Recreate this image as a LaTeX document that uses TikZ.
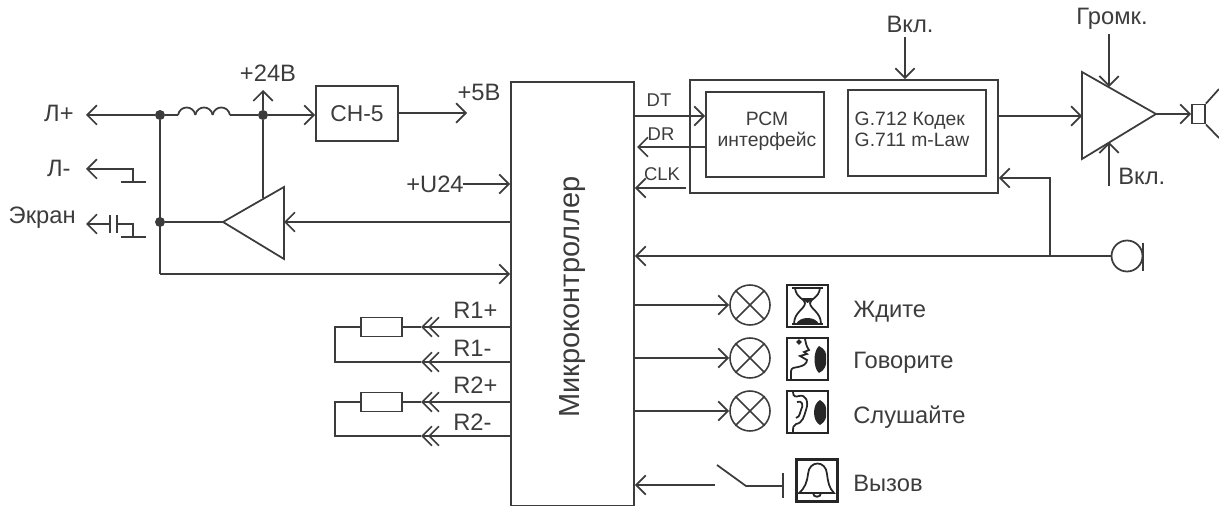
\documentclass[tikz,border=0pt]{standalone}
\usepackage{fontspec}
\setmainfont{Liberation Sans}
\usetikzlibrary{arrows.meta,positioning,calc}
\definecolor{ink}{HTML}{3C3C3C}
\tikzset{
  wire/.style={draw=ink,line width=1pt},
  barb/.style={-{Straight Barb[length=5.5pt,width=11pt,line width=1pt]}},
  blockbox/.style={draw=ink,line width=1pt,inner sep=0pt,align=center},
  iconbox/.style={draw=black!85,line width=1.2pt,minimum width=0.82cm,minimum height=0.84cm,inner sep=0pt},
  lamp/.style={draw=ink,line width=0.9pt,circle,minimum size=0.8cm,inner sep=0pt},
  dot/.style={circle,fill=ink,minimum size=0.2cm,inner sep=0pt},
  lbl/.style={text=ink,font=\fontsize{13.5}{15}\selectfont,inner sep=0pt},
  small/.style={text=ink,font=\fontsize{10.5}{12}\selectfont,inner sep=0pt},
  mid/.style={text=ink,font=\fontsize{11}{12.2}\selectfont,inner sep=0pt,align=center},
  art/.style={line width=1pt,draw=black!85},
}
\begin{document}
\begin{tikzpicture}[x=0.02cm,y=-0.02cm]
\useasboundingbox (0,0) rectangle (1219,506);
% blocks
\node[blockbox,minimum width=2.46cm,minimum height=8.48cm] (mcu) at (572.5,294) {};
\node[lbl,rotate=90,font=\fontsize{16.5}{18}\selectfont] (mcutext) at (573,297) {Микроконтроллер};
\node[blockbox,minimum width=1.64cm,minimum height=1.1cm,font=\fontsize{13}{15}\selectfont,text=ink] (ch) at (357,113.5) {СН-5};
\node[blockbox,minimum width=6.16cm,minimum height=2.26cm] (codec) at (844,136.5) {};
\node[blockbox,minimum width=2.36cm,minimum height=1.7cm] (pcm) at (765,134.5) {};
\node[mid] (pcmtext) at (767,131) {РСМ\\интерфейс};
\node[blockbox,minimum width=2.76cm,minimum height=1.72cm] (g) at (917,133) {};
\node[mid,align=left] (gtext) at (912,129.5) {G.712 Кодек\\G.711 m-Law};
% power input
\node[dot] (j1) at (160,115) {};
\node[dot] (j2) at (263,115) {};
\node[dot] (j3) at (160,222) {};
\coordinate (lp) at (86,115);
\coordinate (lm) at (86,169);
\coordinate (scr) at (86,224);
\coordinate (l1) at (178,115);
\coordinate (l2) at (230,115);
\node[lbl,anchor=east] (lptext) at (74,113) {Л+};
\node[lbl,anchor=east] (lmtext) at (71,168) {Л-};
\node[lbl,anchor=east] (scrtext) at (76,218) {Экран};
\node[lbl] (v24) at (268,73) {+24В};
\node[lbl] (v5) at (479,92) {+5В};
\node[lbl] (u24) at (435,184) {+U24};
\draw[wire,barb] (j1) -- (lp);
\draw[wire] (j1) -- (l1);
\foreach \x in {178,195.3,212.6} {
  \draw[wire] (\x,115) .. controls +(2,-10) and +(-2,-10) .. +(17.4,0);
}
\draw[wire] (l2) -- (j2);
\coordinate (up24) at (263,90);
\draw[wire,barb] (j2) -- (up24);
\draw[wire,barb] (j2) -- (ch.west |- j2);
\coordinate (v5end) at (467,113);
\draw[wire,barb] (ch.east |- v5end) -- (v5end);
% ground and screen
\coordinate (gnd1) at (133,182);
\coordinate (gnd2) at (133,237);
\coordinate (capl) at (110,224);
\coordinate (capr) at (117,224);
\draw[wire,barb] (gnd1) |- (lm);
\draw[wire] (121,182) -- (146,182);
\draw[wire,barb] (capl) -- (scr);
\draw[wire] (110,215) -- (110,233);
\draw[wire] (117,215) -- (117,233);
\draw[wire] (capr) -| (gnd2);
\draw[wire] (121,237) -- (146,237);
% amplifier on the line
\coordinate (ampin) at (284,222);
\coordinate (ampout) at (223,222);
\coordinate (ampt) at (263,198);
\draw[wire] (ampout) -- (284,187) -- (284,259) -- cycle;
\draw[wire] (j2) -- (ampt);
\draw[wire] (j3) -- (ampout);
\draw[wire,barb] (mcu.west |- ampin) -- (ampin);
\coordinate (sense) at (160,274);
\draw[wire] (j1) -- (sense);
\draw[wire,barb] (sense) -- (mcu.west |- sense);
\coordinate (u24s) at (463,184);
\draw[wire,barb] (u24s) -- (mcu.west |- u24s);
% resistors
\foreach \name/\a/\b/\pa/\na in {1/327/362/R1+/R1-,2/402/436/R2+/R2-} {
  \node[draw=ink,line width=1pt,minimum width=0.82cm,minimum height=0.38cm,inner sep=0pt] (res\name) at (381.5,\a) {};
  \coordinate (tipa\name) at (421,\a);
  \coordinate (tipb\name) at (421,\b);
  \coordinate (reara\name) at (428,\a);
  \coordinate (rearb\name) at (428,\b);
  \coordinate (loop\name) at (335,\a);
  \draw[wire,barb] (mcu.west |- tipa\name) -- (tipa\name);
  \draw[wire,barb] (mcu.west |- tipa\name) -- (reara\name);
  \draw[wire,barb] (mcu.west |- tipb\name) -- (tipb\name);
  \draw[wire,barb] (mcu.west |- tipb\name) -- (rearb\name);
  \draw[wire] (tipa\name) -- (res\name.east);
  \draw[wire] (res\name.west) -- (loop\name) |- (tipb\name);
  \node[lbl,anchor=west] (pl\name) at (453,\a-17) {\pa};
  \node[lbl,anchor=west] (nl\name) at (453,\b-14) {\na};
}
% codec links
\node[small] (dt) at (659,100) {DT};
\node[small] (dr) at (661,134) {DR};
\node[small] (clk) at (662,174) {CLK};
\coordinate (dts) at (634,116);
\coordinate (drs) at (637,147);
\coordinate (clks) at (686,188);
\draw[wire,barb] (dts) -- (pcm.west |- dts);
\draw[wire,barb] (pcm.west |- drs) -- (drs);
\draw[wire,barb] (clks) -- (mcu.east |- clks);
\node[lbl] (on1) at (910,24) {Вкл.};
\coordinate (on1s) at (905,37);
\draw[wire,barb] (on1s) -- (codec.north -| on1s);
% output amplifier and speaker
\coordinate (pa) at (1082,116);
\coordinate (paout) at (1156,114);
\draw[wire] (1082,72) -- (paout) -- (1082,159) -- cycle;
\draw[wire,barb] (codec.east |- pa) -- (pa);
\node[lbl] (vol) at (1112,19) {Громк.};
\coordinate (vols) at (1109,34);
\coordinate (vole) at (1109,87);
\draw[wire,barb] (vols) -- (vole);
\node[lbl,anchor=west] (on2) at (1118,176) {Вкл.};
\coordinate (on2s) at (1109,186);
\coordinate (on2e) at (1109,142);
\draw[wire,barb] (on2s) -- (on2e);
\node[draw=ink,line width=1pt,minimum width=0.26cm,minimum height=0.38cm,inner sep=0pt] (spk) at (1198.5,114) {};
\draw[wire,barb] (paout) -- (spk.west);
\draw[wire] (spk.north east) -- (1219,89);
\draw[wire] (spk.south east) -- (1219,138);
% microphone
\node[draw=ink,line width=1pt,circle,minimum size=0.62cm,inner sep=0pt] (mic) at (1127,256) {};
\draw[wire] (1143,243) -- (1143,271);
\coordinate (micj) at (1050,256);
\coordinate (mich) at (1050,178);
\draw[wire,barb] (mic.west) -- (mcu.east |- mic);
\draw[wire,barb] (micj) -- (mich) -- (codec.east |- mich);
% lamps
\foreach \name/\y/\ty/\txt in {wait/305/312/Ждите,talk/358/363/Говорите,hear/411/417/Слушайте} {
  \node[lamp] (lamp\name) at (750,\y) {};
  \draw[draw=ink,line width=0.9pt] (lamp\name.north west) -- (lamp\name.south east);
  \draw[draw=ink,line width=0.9pt] (lamp\name.north east) -- (lamp\name.south west);
  \draw[wire,barb] (mcu.east |- lamp\name) -- (lamp\name.west);
  \node[iconbox] (icon\name) at (807.5,\y+1) {};
  \node[lbl,anchor=west] (text\name) at (853,\ty) {\txt};
}
% hourglass
\draw[art,line width=1.3pt] (792,288) -- (823,288) (792,324) -- (823,324);
\draw[art] (795,288) .. controls (796,298) and (805,299) .. (805,303)
  .. controls (805,309) and (794,312) .. (794,324);
\draw[art] (820,288) .. controls (819,298) and (810,299) .. (810,303)
  .. controls (810,309) and (821,312) .. (821,324);
\fill[black!85] (807.5,303) -- (815,298) -- (800,298) -- cycle;
\fill[black!85] (796,324) .. controls (800,316) and (815,316) .. (819,324) -- cycle;
% face
\draw[art] (791,380) -- (791,371) .. controls (791,368) and (795,367) .. (798,367)
  .. controls (803,366) and (807,364) .. (807,360) -- (800,356) -- (807,354) -- (804,352) -- (809,350)
  .. controls (806,346) and (806,343) .. (805,339);
\draw[art] (799,342) circle (1.6);
\fill[black!85] (819,346) .. controls (825,349) and (827,353) .. (826,359) .. controls (827,365) and (825,370) .. (819,373)
  .. controls (813,368) and (813,351) .. (819,346) -- cycle;
% ear
\draw[art] (793,392) .. controls (793,397) and (796,397) .. (799,396) .. controls (806,394) and (809,402) .. (806,410)
  .. controls (804,416) and (803,423) .. (796,424) .. controls (793,425) and (793,428) .. (793,432);
\draw[art] (797,402) .. controls (802,400) and (804,405) .. (801,410) .. controls (799,413) and (801,416) .. (796,418);
\fill[black!85] (820,400) .. controls (825,403) and (827,407) .. (826,412) .. controls (827,418) and (825,422) .. (820,425)
  .. controls (812,421) and (812,404) .. (820,400) -- cycle;
% call button
\node[iconbox] (bell) at (817,480.5) {};
\draw[art] (799,493) .. controls (805,488) and (807,482) .. (808,474)
  .. controls (809,460) and (826,460) .. (827,474) .. controls (828,482) and (829,488) .. (834,493) -- cycle;
\draw[art] (813,493) .. controls (813,498) and (821,498) .. (821,493);
\node[lbl,anchor=west] (calltext) at (853,483) {Вызов};
\coordinate (swa) at (715,485);
\coordinate (swb) at (717,465);
\coordinate (swc) at (746,486);
\coordinate (swd) at (783,486);
\draw[wire,barb] (swa) -- (mcu.east |- swa);
\draw[wire] (swb) -- (swc) -- (swd);
\draw[wire] (783,473) -- (783,498);
\end{tikzpicture}
\end{document}
